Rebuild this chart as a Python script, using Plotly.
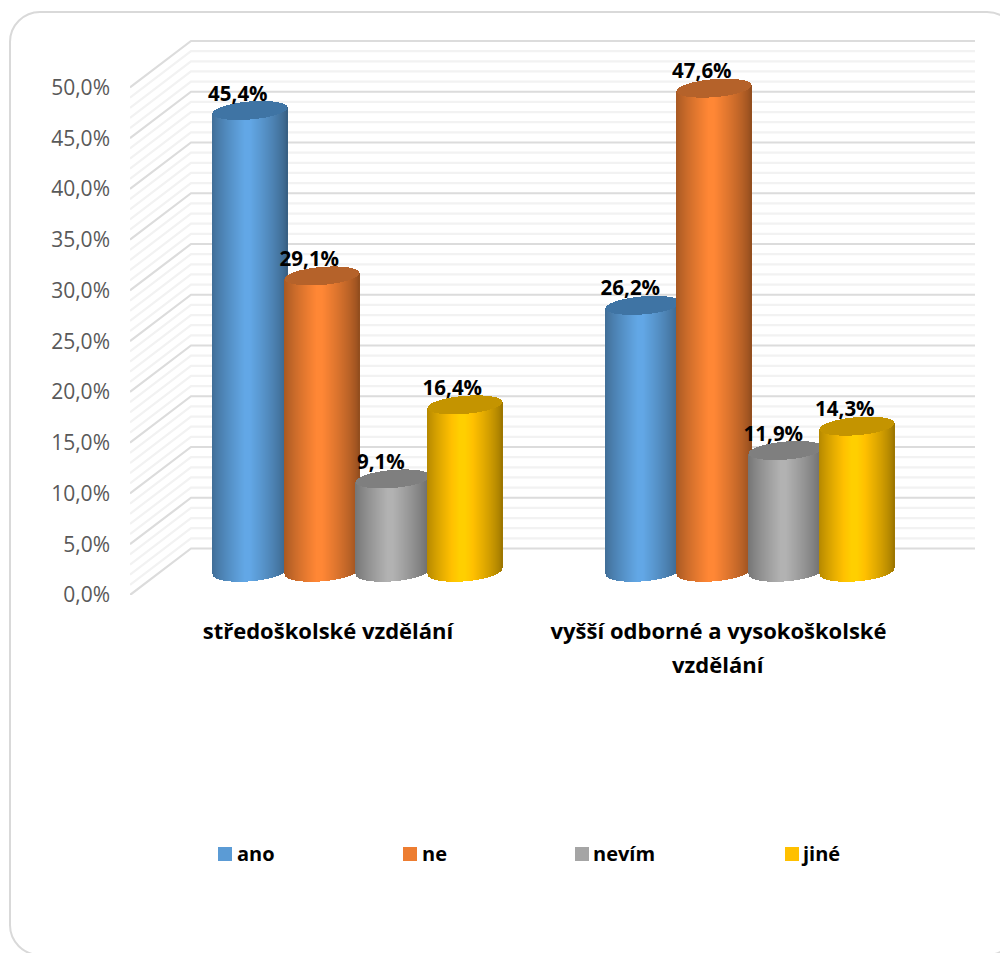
import plotly.graph_objects as go

categories = ["středoškolské vzdělání", "vyšší odborné a vysokoškolské"]
category_second_line = "vzdělání"
series_names = ["ano", "ne", "nevím", "jiné"]
ano = [45.4, 26.2]
ne = [29.1, 47.6]
nevim = [9.1, 11.9]
jine = [16.4, 14.3]
series_values = [ano, ne, nevim, jine]
tick_values = [0, 5, 10, 15, 20, 25, 30, 35, 40, 45, 50]
tick_labels = ["0,0%", "5,0%", "10,0%", "15,0%", "20,0%", "25,0%", "30,0%", "35,0%", "40,0%", "45,0%", "50,0%"]
base_rgb = [(91, 155, 213), (237, 125, 49), (165, 165, 165), (255, 192, 0)]
cap_rgb = [(63, 116, 164), (181, 98, 42), (127, 127, 127), (196, 148, 0)]
legend_hex = ["#5b9bd5", "#ed7d31", "#a5a5a5", "#ffc000"]

# geometry, in pixels of the 1000x953 page
W, H = 1000, 953
LEFT, RIGHT, TOP, Y0 = 130, 975, 30, 595
PX_Y = 10.15          # pixels per percentage point
PX_X = 392.5          # pixels per category
CAT0 = 328            # pixel of first category on the front plane
CAT_LABELS = [0, 0.995]
DEPTH_X, DEPTH_Y = 61, 46.5
STEP = 71.5           # distance between cylinders
RX, RY, SHEAR = 37, 9, 3 / 37
BAR_SHIFT_X, BAR_SHIFT_Y = 29.6, 23.7
BOTTOM_DROP = 1.0

x_range = [(LEFT - CAT0) / PX_X, (RIGHT - CAT0) / PX_X]
y_range = [0, (Y0 - TOP) / PX_Y]
px_to_paper_x = lambda p: (p - LEFT) / (RIGHT - LEFT)
px_to_paper_y = lambda p: (Y0 - p) / (Y0 - TOP)

fig = go.Figure()

# walls: drawn on the lower subplot, so cylinders sit on top
major_x, major_y, minor_x, minor_y = [], [], [], []
dx_u, dy_u = DEPTH_X / PX_X, DEPTH_Y / PX_Y
for v in range(0, 51):
    xs = [x_range[0], x_range[0] + dx_u, x_range[1], None]
    ys = [v, v + dy_u, v + dy_u, None]
    if v % 5 == 0:
        major_x += xs; major_y += ys
    else:
        minor_x += xs; minor_y += ys
fig.add_trace(go.Scatter(x=minor_x, y=minor_y, mode="lines", line=dict(color="#f2f2f2", width=2.2),
                         hoverinfo="skip", showlegend=False, cliponaxis=False, xaxis="x", yaxis="y"))
fig.add_trace(go.Scatter(x=major_x, y=major_y, mode="lines", line=dict(color="#dcdcdc", width=2.2),
                         hoverinfo="skip", showlegend=False, cliponaxis=False, xaxis="x", yaxis="y"))


def shade(rgb, t):
    c = 1 - abs(t - 0.47) / 0.53
    f = 0.62 + 0.46 * min(1.0, c ** 0.75 * 1.05)
    return "rgb(%d,%d,%d)" % tuple(min(255, round(k * f)) for k in rgb)


lbl_x, lbl_y, lbl_t = [], [], []
for c in range(len(categories)):
    for s, vals in enumerate(series_values):
        v = vals[c]
        cx = c + (BAR_SHIFT_X + (s - 1.5) * STEP) / PX_X
        base = BAR_SHIFT_Y / PX_Y
        top = base + v
        sx, sbase, sh, scol, cbase, ch = [], [], [], [], [], []
        n = 2 * RX
        for i in range(n + 1):
            d = -RX + i
            half = RY * (1 - (d / RX) ** 2) ** 0.5
            tilt = SHEAR * d
            sx.append(cx + d / PX_X)
            low = base + (tilt - half - BOTTOM_DROP * (half / RY)) / PX_Y
            high = top + tilt / PX_Y
            sbase.append(low)
            sh.append(high - low)
            scol.append(shade(base_rgb[s], i / n))
            cbase.append(top + (tilt - half) / PX_Y)
            ch.append(2 * half / PX_Y)
        w = 1.35 / PX_X
        fig.add_trace(go.Bar(x=sx, y=sh, base=sbase, width=w, marker=dict(color=scol, line=dict(width=0)),
                             hoverinfo="skip", showlegend=False, xaxis="x2", yaxis="y2"))
        fig.add_trace(go.Bar(x=sx, y=ch, base=cbase, width=w,
                             marker=dict(color="rgb(%d,%d,%d)" % cap_rgb[s], line=dict(width=0)),
                             hoverinfo="skip", showlegend=False, xaxis="x2", yaxis="y2"))
        lbl_x.append(cx - 12.5 / PX_X)
        lbl_y.append(top + 15 / PX_Y)
        lbl_t.append(("%.1f%%" % v).replace(".", ","))

fig.add_trace(go.Scatter(x=lbl_x, y=lbl_y, text=lbl_t, mode="text", textposition="middle center",
                         textfont=dict(family="Open Sans", size=20.5, color="#000000", weight=700),
                         hoverinfo="skip", showlegend=False, cliponaxis=False, xaxis="x2", yaxis="y2"))

# legend: swatches and labels below the plot
swatch_px = [218, 403, 575, 785]
text_px = [238, 423, 594, 802]
annotations = [dict(text=category_second_line, x=CAT_LABELS[1], y=px_to_paper_y(664), xref="x2", yref="paper",
                    showarrow=False, xanchor="center", yanchor="middle",
                    font=dict(family="Open Sans", size=22, color="#000000", weight=700))]
swatches = []
for i, name in enumerate(series_names):
    swatches.append(dict(type="rect", xref="paper", yref="paper",
                         x0=px_to_paper_x(swatch_px[i]), x1=px_to_paper_x(swatch_px[i] + 14),
                         y0=px_to_paper_y(847), y1=px_to_paper_y(861),
                         fillcolor=legend_hex[i], line=dict(width=0)))
    annotations.append(dict(text=name, x=px_to_paper_x(text_px[i]), y=px_to_paper_y(854), xref="paper", yref="paper",
                            showarrow=False, xanchor="left", yanchor="middle", borderpad=0, borderwidth=0,
                            xshift=-1,
                            font=dict(family="Open Sans", size=20, color="#000000", weight=700)))

# rounded chart frame
bx0, by0, bx1, by1, r = 10, 12, 1017, 955, 30
k = r * 0.45
P = lambda x, y: "%f,%f" % (px_to_paper_x(x), px_to_paper_y(y))
frame = ("M" + P(bx0 + r, by0) + " L" + P(bx1 - r, by0) +
         " C" + P(bx1 - k, by0) + " " + P(bx1, by0 + k) + " " + P(bx1, by0 + r) +
         " L" + P(bx1, by1 - r) +
         " C" + P(bx1, by1 - k) + " " + P(bx1 - k, by1) + " " + P(bx1 - r, by1) +
         " L" + P(bx0 + r, by1) +
         " C" + P(bx0 + k, by1) + " " + P(bx0, by1 - k) + " " + P(bx0, by1 - r) +
         " L" + P(bx0, by0 + r) +
         " C" + P(bx0, by0 + k) + " " + P(bx0 + k, by0) + " " + P(bx0 + r, by0) + " Z")

hidden = dict(visible=False, fixedrange=True)
fig.update_layout(
    width=W, height=H, autosize=False,
    margin=dict(l=LEFT, r=W - RIGHT, t=TOP, b=H - Y0, pad=0, autoexpand=False),
    paper_bgcolor="#ffffff", plot_bgcolor="rgba(0,0,0,0)",
    barmode="overlay", bargap=0, showlegend=False,
    xaxis=dict(range=x_range, domain=[0, 1], anchor="y", **hidden),
    yaxis=dict(range=y_range, domain=[0, 1], anchor="x", **hidden),
    xaxis2=dict(range=x_range, domain=[0, 1], anchor="y2", tickmode="array", tickvals=CAT_LABELS, ticktext=categories,
                showgrid=False, zeroline=False, showline=False, ticks="", ticklabelstandoff=21,
                tickfont=dict(family="Open Sans", size=22, color="#000000", weight=700), fixedrange=True, tickangle=0),
    yaxis2=dict(range=y_range, domain=[0, 1], anchor="x2", tickmode="array", tickvals=tick_values, ticktext=tick_labels,
                showgrid=False, zeroline=False, showline=False, ticks="", ticklabelstandoff=19,
                tickfont=dict(family="Open Sans", size=21, color="#595959"), fixedrange=True),
    shapes=[dict(type="path", path=frame, xref="paper", yref="paper", layer="below",
                 line=dict(color="#d9d9d9", width=2), fillcolor="rgba(0,0,0,0)")] + swatches,
    annotations=annotations,
)

fig.write_html("out.html", post_script="document.body.style.margin='0';document.body.style.overflow='hidden';",
               config={"displayModeBar": False})
